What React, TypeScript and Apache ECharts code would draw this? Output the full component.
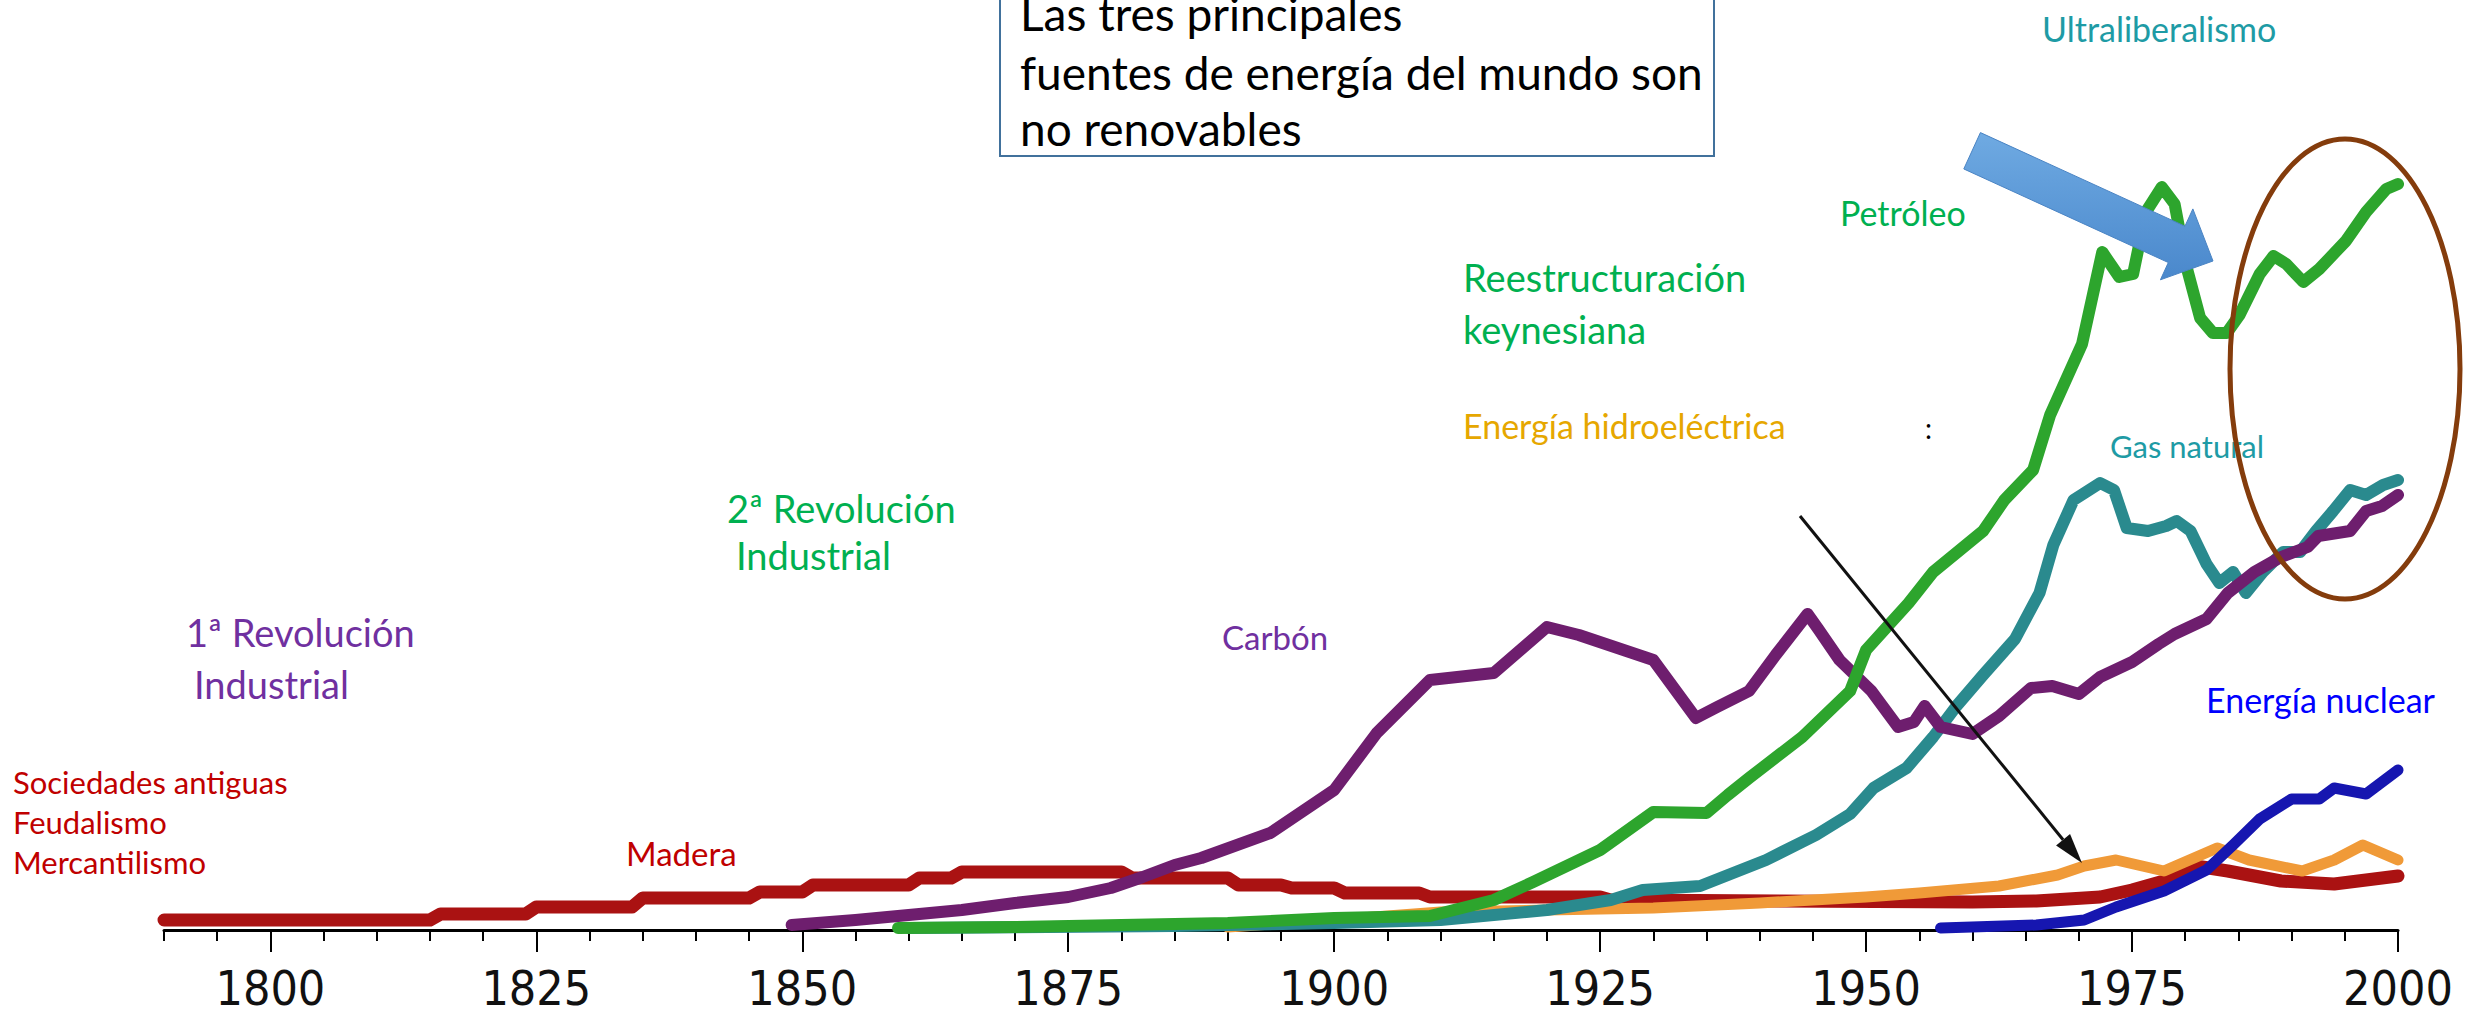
import React, { useEffect, useRef } from "react";
import * as echarts from "echarts";

// ---- Data ----
const majorYears = [1800, 1825, 1850, 1875, 1900, 1925, 1950, 1975, 2000];

const woodYears = [1790, 1815, 1816, 1824, 1825, 1834, 1835, 1845, 1846, 1850, 1851, 1860, 1861, 1864, 1865, 1880, 1881, 1890, 1891, 1895, 1896, 1900, 1901, 1908, 1909, 1925, 1926, 1960, 1966, 1972, 1975, 1978, 1981, 1984, 1989, 1994, 2000];
const woodValues = [10, 10, 16, 16, 23, 23, 32, 32, 38, 38, 45, 45, 52, 52, 58, 58, 52, 52, 45, 45, 42, 42, 37, 37, 33, 33, 30, 28, 29, 33, 40, 49, 64, 59, 49, 46, 54];

const coalYears = [1849, 1855, 1860, 1865, 1870, 1875, 1879, 1882, 1885, 1887.5, 1894, 1900, 1904, 1909, 1915, 1920, 1923, 1930, 1934, 1936, 1939, 1941.5, 1944.5, 1945.5, 1947.5, 1950.5, 1953, 1954.5, 1955.5, 1957, 1960, 1962.5, 1965.5, 1967.5, 1970, 1972, 1975, 1977.5, 1979, 1982, 1984, 1986.5, 1989, 1991.5, 1992.5, 1995.5, 1997, 1998.5, 2000];
const coalValues = [5, 10, 15, 20, 27, 33, 42, 53, 65, 72, 97, 140, 197, 250, 257, 303, 295, 270, 212, 223, 239, 275, 316, 301, 270, 239, 203, 208, 224, 203, 196, 214, 242, 244, 236, 253, 268, 286, 296, 311, 337, 358, 373, 383, 394, 399, 419, 424, 435];

const oilYears = [1859, 1870, 1880, 1890, 1900, 1909, 1912, 1915, 1918.7, 1925, 1930, 1935, 1937, 1939, 1944, 1948.5, 1950, 1954, 1956.3, 1961, 1963, 1965.7, 1967.3, 1970.3, 1972.2, 1973.8, 1975.1, 1976.3, 1977.8, 1979, 1980.1, 1981.4, 1982.6, 1983.9, 1985.1, 1987, 1988.3, 1989.5, 1991.1, 1992.6, 1995.1, 1997, 1998.9, 2000];
const oilValues = [2, 3, 5, 7, 12, 14, 22, 30, 48, 80, 118, 117, 135, 152, 193, 239, 280, 327, 358, 399, 430, 460, 515, 586, 678, 653, 656, 718, 743, 726, 664, 612, 597, 597, 615, 656, 674, 666, 648, 661, 689, 718, 741, 746];

const gasYears = [1860, 1885, 1900, 1910, 1920, 1926, 1929, 1934.4, 1940.6, 1945.3, 1948.5, 1950.7, 1953.8, 1956.3, 1958.5, 1961, 1964, 1966.3, 1967.6, 1969.5, 1972, 1973.3, 1974.5, 1976.5, 1978.2, 1979.2, 1980.5, 1982, 1983.2, 1984.5, 1985.7, 1987.3, 1989.2, 1990.8, 1992.3, 1993.9, 1995.5, 1997, 1998.6, 2000];
const gasValues = [2, 4, 7, 10, 20, 30, 40, 44, 70, 95, 116, 142, 162, 193, 224, 255, 291, 337, 385, 430, 447, 440, 402, 399, 404, 409, 399, 366, 347, 358, 337, 358, 378, 378, 399, 419, 440, 435, 445, 450];

const hydroYears = [1890, 1900, 1910, 1920, 1930, 1940, 1950, 1955, 1962.5, 1968, 1970.5, 1973.5, 1978, 1983, 1986, 1991, 1994, 1996.7, 2000];
const hydroValues = [3, 10, 18, 20, 22, 27, 33, 37, 44, 55, 64, 70, 59, 82, 70, 59, 70, 85, 70];

const nuclearYears = [1957, 1966, 1970.5, 1973.5, 1978, 1982, 1984.5, 1987, 1990, 1992.6, 1994, 1997, 2000];
const nuclearValues = [2, 5, 10, 23, 39, 60, 85, 111, 131, 131, 142, 136, 160];

const toPairs = (ys: number[], vs: number[]) => ys.map((y, i) => [y, vs[i]]);

const TXT = "Lato, 'Open Sans', 'Noto Sans', sans-serif";

function blockArrow() {
  const T = [2213, 261];
  const u = [0.909, 0.416];
  const n = [-0.416, 0.909];
  const tailLen = 265, headLen = 40, shaftHalf = 20, headHalf = 39;
  const p = (a: number, b: number) => [T[0] - a * u[0] + b * n[0], T[1] - a * u[1] + b * n[1]];
  return [p(tailLen, -shaftHalf), p(headLen, -shaftHalf), p(headLen, -headHalf), T, p(headLen, headHalf), p(headLen, shaftHalf), p(tailLen, shaftHalf)];
}

function label(text: string, x: number, y: number, color: string, size: number) {
  return {
    type: "text",
    z: 50,
    x,
    y,
    style: { text, fill: color, font: `${size}px ${TXT}`, align: "left", verticalAlign: "middle" },
  };
}

export default function App() {
  const ref = useRef<HTMLDivElement>(null);
  useEffect(() => {
    if (!ref.current) return;
    const chart = echarts.init(ref.current, undefined, { renderer: "svg" });
    const line = (name: string, ys: number[], vs: number[], color: string, width: number, z: number) => ({
      name,
      type: "line",
      data: toPairs(ys, vs),
      showSymbol: false,
      symbol: "none",
      z,
      lineStyle: { color, width, cap: "round", join: "round" },
      itemStyle: { color },
    });
    // arrow head for the thin black arrow
    const tip = [2082, 863];
    const dir = [0.631, 0.776];
    const nrm = [-0.776, 0.631];
    const hb = [tip[0] - 30 * dir[0], tip[1] - 30 * dir[1]];
    const option: any = {
      animation: false,
      backgroundColor: "#ffffff",
      grid: { left: 164, right: 75, top: 130, bottom: 85, containLabel: false },
      xAxis: [
        {
          type: "value",
          min: 1790,
          max: 2000,
          position: "bottom",
          axisLine: { show: true, lineStyle: { color: "#000", width: 3 } },
          axisTick: { show: true, customValues: majorYears, length: 22, lineStyle: { color: "#000", width: 2 } },
          axisLabel: {
            show: true,
            customValues: majorYears,
            margin: 34,
            fontFamily: "'Liberation Sans Narrow', 'DejaVu Sans Condensed', sans-serif",
            fontSize: 48,
            lineHeight: 48,
            color: "#111",
            formatter: (v: number) => String(v),
          },
          splitLine: { show: false },
        },
        {
          type: "value",
          min: 1790,
          max: 2000,
          interval: 5,
          position: "bottom",
          axisLine: { show: false },
          axisTick: { show: true, length: 11, lineStyle: { color: "#000", width: 2 } },
          axisLabel: { show: false },
          splitLine: { show: false },
        },
      ],
      yAxis: { type: "value", min: 0, max: 800, show: false, splitLine: { show: false } },
      series: [
        line("Madera", woodYears, woodValues, "#AA1212", 13, 3),
        line("Energía hidroeléctrica", hydroYears, hydroValues, "#F09A38", 11, 4),
        line("Energía nuclear", nuclearYears, nuclearValues, "#1616B0", 11, 4),
        line("Gas natural", gasYears, gasValues, "#2A8A8E", 12, 5),
        line("Carbón", coalYears, coalValues, "#6E1E6E", 12, 6),
        line("Petróleo", oilYears, oilValues, "#2DA52D", 12, 7),
      ],
      graphic: [
        {
          type: "rect",
          z: 40,
          shape: { x: 1000, y: -20, width: 714, height: 176 },
          style: { fill: "#ffffff", stroke: "#41719C", lineWidth: 2 },
        },
        label("Las tres principales", 1020, 13, "#000000", 46),
        label("fuentes de energía del mundo son", 1020, 72, "#000000", 46),
        label("no renovables", 1020, 128, "#000000", 46),
        label("Ultraliberalismo", 2042, 28, "#1E9BA5", 34),
        label("Petróleo", 1840, 212, "#00B050", 34),
        label("Reestructuración", 1463, 277, "#00B050", 38),
        label("keynesiana", 1463, 329, "#00B050", 38),
        label("Energía hidroeléctrica", 1463, 425, "#E6A700", 34),
        label(":", 1925, 428, "#000000", 28),
        label("Gas natural", 2110, 446, "#1E9BA5", 31),
        label("2ª Revolución", 727, 508, "#00B050", 38),
        label("Industrial", 736, 555, "#00B050", 38),
        label("1ª Revolución", 186, 632, "#7030A0", 38),
        label("Industrial", 194, 684, "#7030A0", 38),
        label("Carbón", 1222, 637, "#7030A0", 33),
        label("Energía nuclear", 2206, 699, "#0000FF", 34),
        label("Sociedades antiguas", 13, 782, "#C00000", 31),
        label("Feudalismo", 13, 822, "#C00000", 31),
        label("Mercantilismo", 13, 862, "#C00000", 31),
        label("Madera", 626, 853, "#C00000", 33),
        {
          type: "line",
          z: 45,
          shape: { x1: 1800, y1: 516, x2: hb[0], y2: hb[1] },
          style: { stroke: "#111111", lineWidth: 3 },
        },
        {
          type: "polygon",
          z: 45,
          shape: {
            points: [
              tip,
              [hb[0] + 9 * nrm[0], hb[1] + 9 * nrm[1]],
              [hb[0] - 9 * nrm[0], hb[1] - 9 * nrm[1]],
            ],
          },
          style: { fill: "#111111" },
        },
        {
          type: "polygon",
          z: 55,
          shape: { points: blockArrow() },
          style: {
            fill: new echarts.graphic.LinearGradient(0, 0, 0, 1, [
              { offset: 0, color: "#6FAAE2" },
              { offset: 1, color: "#4A88CC" },
            ]),
            stroke: "#4A84C4",
            lineWidth: 1,
          },
        },
        {
          type: "ellipse",
          z: 60,
          shape: { cx: 2345, cy: 369, rx: 115, ry: 230 },
          style: { fill: "none", stroke: "#843C0C", lineWidth: 5 },
        },
      ],
    };
    chart.setOption(option);
    return () => chart.dispose();
  }, []);
  return (
    <div
      ref={ref}
      style={{ position: "fixed", left: 0, top: 0, width: 2473, height: 1015, background: "#fff" }}
    />
  );
}
